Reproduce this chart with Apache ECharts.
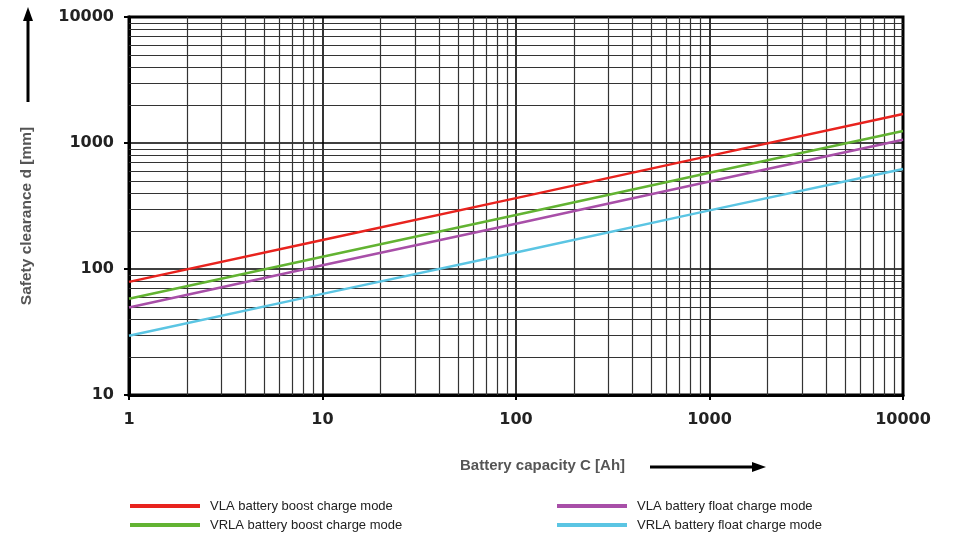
<!DOCTYPE html>
<html>
<head>
<meta charset="utf-8">
<script src="https://cdn.jsdelivr.net/npm/echarts@6/dist/echarts.min.js"></script>
<style>
html,body{margin:0;padding:0;background:#fff;}
#chart{width:953px;height:533px;}
</style>
</head>
<body>
<div id="chart"></div>
<script>
// Battery capacity C [Ah]
const capacities = [1, 10, 100, 1000, 10000];
// Safety clearance d [mm]
const vlaBoost   = [79, 170, 365, 790, 1700];
const vrlaBoost  = [58, 125, 268, 580, 1245];
const vlaFloat   = [49.5, 107, 229, 495, 1062];
const vrlaFloat  = [29.5, 63.5, 135, 292, 622];

const seriesNames = [
  'VLA battery boost charge mode',
  'VRLA battery boost charge mode',
  'VLA battery float charge mode',
  'VRLA battery float charge mode'
];
const seriesColors = ['#e8231e', '#62b332', '#a84fa8', '#5bc5e3'];

// minor grid positions (log decades 2..9)
const xMinorGrid = [2,3,4,5,6,7,8,9,20,30,40,50,60,70,80,90,200,300,400,500,600,700,800,900,2000,3000,4000,5000,6000,7000,8000,9000];
const yMinorGrid = [20,30,40,50,60,70,80,90,200,300,400,500,600,700,800,900,2000,3000,4000,5000,6000,7000,8000,9000];

const xTitle = 'Battery capacity C [Ah]';
const yTitle = 'Safety clearance d [mm]';

const allData = [vlaBoost, vrlaBoost, vlaFloat, vrlaFloat];

const chart = echarts.init(document.getElementById('chart'));

const lineSeries = allData.map((vals, i) => ({
  name: seriesNames[i],
  type: 'line',
  data: capacities.map((c, j) => [c, vals[j]]),
  showSymbol: false,
  symbol: 'none',
  lineStyle: { color: seriesColors[i], width: 2.5 },
  itemStyle: { color: seriesColors[i] },
  z: 5,
  silent: true,
  animation: false
}));

const gridSeries = {
  name: 'grid',
  type: 'line',
  data: [],
  z: 1,
  silent: true,
  animation: false,
  markLine: {
    silent: true,
    symbol: ['none', 'none'],
    label: { show: false },
    animation: false,
    lineStyle: { color: '#333', width: 1.2, type: 'solid' },
    data: xMinorGrid.map(v => ({ xAxis: v })).concat(yMinorGrid.map(v => ({ yAxis: v })))
  }
};

const labelFmt = v => String(Math.round(v));
const FONT = 'Liberation Sans, Arial, sans-serif';
const TICKFONT = 'DejaVu Sans, Liberation Sans, sans-serif';

const legendPos = [[130, 499], [130, 518], [557, 499], [557, 518]];
const legends = seriesNames.map((n, i) => ({
  data: [n],
  orient: 'horizontal', left: legendPos[i][0], top: legendPos[i][1], padding: 0,
  icon: 'rect', itemWidth: 70, itemHeight: 4,
  textStyle: { fontSize: 13, color: '#222', lineHeight: 14, padding: [0, 0, 0, 5], fontFamily: FONT },
  selectedMode: false
}));

chart.setOption({
  animation: false,
  backgroundColor: '#fff',
  textStyle: { fontFamily: FONT },
  grid: { left: 129, right: 50, top: 17, bottom: 138, show: true, borderColor: '#000', borderWidth: 3, backgroundColor: 'transparent' },
  xAxis: {
    type: 'log', logBase: 10, min: 1, max: 10000,
    axisLine: { show: true, lineStyle: { color: '#000', width: 3 } },
    axisTick: { show: true, length: 5, lineStyle: { color: '#000', width: 2 } },
    axisLabel: { formatter: labelFmt, fontSize: 16, fontWeight: 'bold', color: '#222', margin: 17, fontFamily: TICKFONT },
    splitLine: { show: true, lineStyle: { color: '#000', width: 1.6 } },
    minorTick: { show: false },
    minorSplitLine: { show: false }
  },
  yAxis: {
    type: 'log', logBase: 10, min: 10, max: 10000,
    axisLine: { show: true, lineStyle: { color: '#000', width: 3 } },
    axisTick: { show: true, length: 5, lineStyle: { color: '#000', width: 2 } },
    axisLabel: { formatter: labelFmt, fontSize: 16, fontWeight: 'bold', color: '#222', margin: 15, padding: [4, 0, 0, 0], fontFamily: TICKFONT },
    splitLine: { show: true, lineStyle: { color: '#000', width: 1.6 } }
  },
  legend: legends,
  graphic: [
    { type: 'text', left: 460, top: 458, style: { text: xTitle, fontSize: 15, fontWeight: 'bold', fill: '#555', fontFamily: FONT } },
    { type: 'line', shape: { x1: 650, y1: 467, x2: 755, y2: 467 }, style: { stroke: '#000', lineWidth: 3 } },
    { type: 'polygon', shape: { points: [[752, 462], [766, 467], [752, 472]] }, style: { fill: '#000' } },
    { type: 'text', x: 27, y: 216, rotation: Math.PI / 2, style: { text: yTitle, fontSize: 15.5, fontWeight: 'bold', fill: '#555', align: 'center', verticalAlign: 'middle', fontFamily: FONT } },
    { type: 'line', shape: { x1: 28, y1: 102, x2: 28, y2: 18 }, style: { stroke: '#000', lineWidth: 3 } },
    { type: 'polygon', shape: { points: [[23, 21], [28, 7], [33, 21]] }, style: { fill: '#000' } }
  ],
  series: [gridSeries].concat(lineSeries)
});
</script>
</body>
</html>
